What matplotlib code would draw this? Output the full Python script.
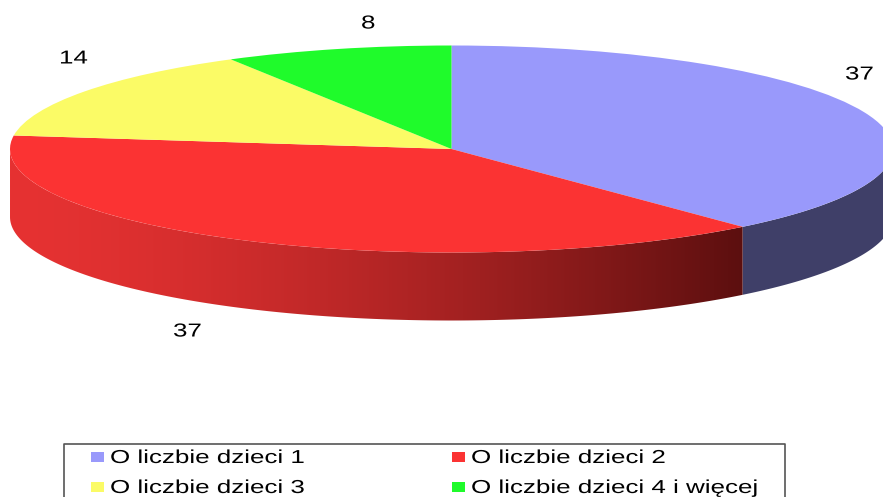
import numpy as np
import matplotlib
matplotlib.use("Agg")
import matplotlib.pyplot as plt
import matplotlib.patheffects as pe
from matplotlib.transforms import Affine2D
from matplotlib.colors import to_rgb
from matplotlib.patches import Polygon

categories = ["O liczbie dzieci 1", "O liczbie dzieci 2", "O liczbie dzieci 3", "O liczbie dzieci 4 i więcej"]
values = [37, 37, 14, 8]
colors = ["#9999fb", "#fb3333", "#fbfb66", "#1ffb2b"]

W, H = 883, 497
CX, CY, RX, RY, DEPTH = 451.5, 149, 441.5, 103.5, 68
FS, STRETCH = 13.5, 1.385

plt.rcParams["font.family"] = ["Liberation Sans", "DejaVu Sans"]
fig = plt.figure(figsize=(W / 100, H / 100), dpi=100)
ax = fig.add_axes([0, 0, 1, 1])
ax.set_xlim(0, W)
ax.set_ylim(H, 0)
ax.axis("off")


class Wide(pe.AbstractPathEffect):
    """Draws the text glyphs wider, anchored at their left end."""

    def draw_path(self, renderer, gc, tpath, affine, rgbFace=None):
        renderer.draw_path(gc, tpath, Affine2D().scale(STRETCH, 1) + affine, rgbFace)


def ell(a):
    """Angle in degrees clockwise from the top to a point on the rim."""
    r = np.radians(a)
    return CX + RX * np.sin(r), CY - RY * np.cos(r)


def wall(a0, a1):
    a = np.linspace(a0, a1, 200)
    x, y = ell(a)
    return np.c_[np.r_[x, x[::-1]], np.r_[y, y[::-1] + DEPTH]]


fr = np.array(values) / sum(values) * 360
edges = np.concatenate([[0], np.cumsum(fr)])

# blue wall: flat shade
ax.add_patch(Polygon(wall(90, edges[1]), closed=True, color="#3f3f68", lw=0, zorder=1))

# red wall: gradient from left (light) to right (dark)
light, dark = np.array(to_rgb("#e63232")), np.array(to_rgb("#5c0f0f"))
xmin, xmax = ell(270)[0], ell(edges[1])[0]
t = np.linspace(0, 1, 400) ** 1.5
grad = (light + (dark - light) * t[:, None])[None, :, :]
im = ax.imshow(grad, extent=(xmin, xmax, H, 0), aspect="auto", zorder=1, interpolation="bilinear")
clip = Polygon(wall(edges[1], 270), closed=True, transform=ax.transData, fc="none", lw=0)
ax.add_patch(clip)
im.set_clip_path(clip)

# top face
wedges, _ = ax.pie(values, colors=colors, startangle=90, counterclock=False,
                   radius=1, center=(0, 0), frame=False,
                   wedgeprops={"linewidth": 0})
ax.set_aspect("auto")
ax.set_xlim(0, W)
ax.set_ylim(H, 0)
ax.axis("off")
tr = Affine2D().scale(RX, -RY).translate(CX, CY) + ax.transData
for w in wedges:
    w.set_transform(tr)
    w.set_zorder(2)

# value labels
label_xy = [(845, 75), (173, 332), (59, 59), (361, 24)]
for v, (lx, ly) in zip(values, label_xy):
    ax.text(lx, ly, str(v), ha="left", va="center", fontsize=FS, color="black",
            path_effects=[Wide()])

# legend box (runs off the bottom of the picture)
ax.plot([64, 64, 785, 785], [H + 2, 443.5, 443.5, H + 2], color="#555555", lw=1.2, zorder=3)
leg_pos = [(91, 457), (452, 457), (91, 487), (452, 487)]
for c, name, (lx, ly) in zip(colors, categories, leg_pos):
    ax.add_patch(plt.Rectangle((lx, ly - 5), 13, 10, color=c, lw=0, zorder=3))
    ax.text(lx + 19, ly + 1.5, name, ha="left", va="center", fontsize=FS, color="black",
            zorder=3, path_effects=[Wide()])

fig.savefig("out.png", dpi=100, facecolor="white")
